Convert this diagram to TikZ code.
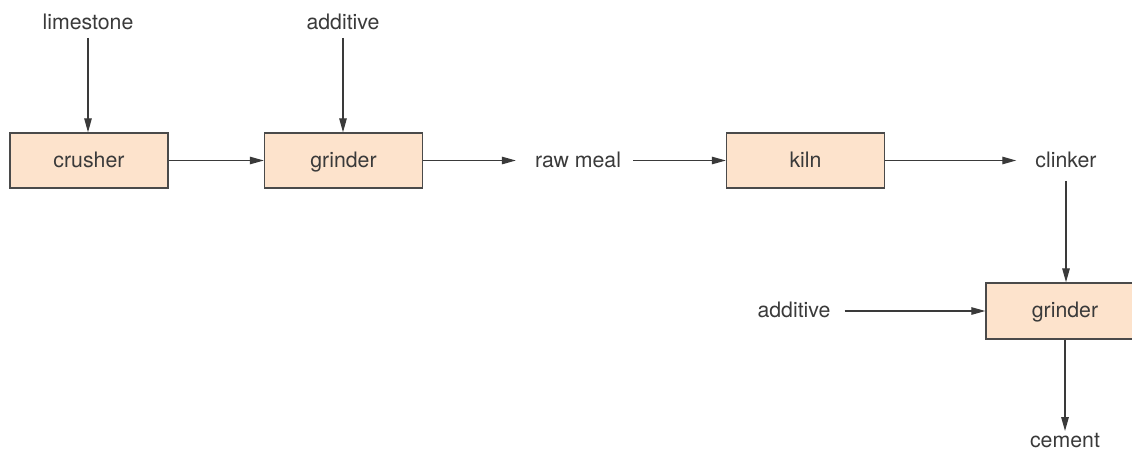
\documentclass[tikz,border=0pt]{standalone}
\usepackage{fontspec}
\setmainfont{TeX Gyre Heros}
\usetikzlibrary{arrows.meta}
\definecolor{boxfill}{HTML}{FDE3CC}
\definecolor{boxline}{HTML}{4A4A4A}
\definecolor{txt}{HTML}{3A3A3A}
\begin{document}
\begin{tikzpicture}[x=1pt,y=-1pt,
  every node/.style={font=\fontsize{21.3}{24}\selectfont, text=txt, text height=15pt, text depth=4.5pt},
  proc/.style={draw=boxline, fill=boxfill, line width=1.4pt, minimum width=158pt, minimum height=55pt, inner sep=0pt, text depth=2pt},
  lbl/.style={inner sep=0pt},
  flow/.style={draw=txt, line width=1.3pt, -{Triangle[length=14pt,width=7.5pt]}}]
\useasboundingbox (0,0) rectangle (1132,450);
\clip (0,0) rectangle (1132,450);
\node[proc] (crusher) at (89,160.5) {crusher};
\node[proc] (grinderA) at (343.5,160.5) {grinder};
\node[proc] (kiln) at (805.5,160.5) {kiln};
\node[proc, minimum height=56pt] (grinderB) at (1065,311) {grinder};
\node[lbl] (limestone) at (88,24) {limestone};
\node[lbl] (addA) at (343,24) {additive};
\node[lbl] (rawmeal) at (578,162) {raw meal};
\node[lbl] (clinker) at (1066,162) {clinker};
\node[lbl] (addB) at (794,312) {additive};
\node[lbl] (cement) at (1065,442) {cement};
\draw[flow, shorten <=4pt] (limestone.south) -- (limestone.south |- crusher.north);
\draw[flow, shorten <=4pt] (addA.south) -- (addA.south |- grinderA.north);
\draw[flow] (crusher.east) -- (grinderA.west);
\draw[flow, shorten >=19pt] (grinderA.east) -- (rawmeal.west |- grinderA.east);
\draw[flow, shorten <=12pt] (rawmeal.east |- kiln.west) -- (kiln.west);
\draw[flow, shorten >=19pt] (kiln.east) -- (clinker.west |- kiln.east);
\draw[flow, shorten <=9pt] (clinker.south) -- (clinker.south |- grinderB.north);
\draw[flow, shorten <=14pt] (addB.east |- grinderB.west) -- (grinderB.west);
\draw[flow, shorten >=1pt] (grinderB.south) -- (cement.north);
\end{tikzpicture}
\end{document}
